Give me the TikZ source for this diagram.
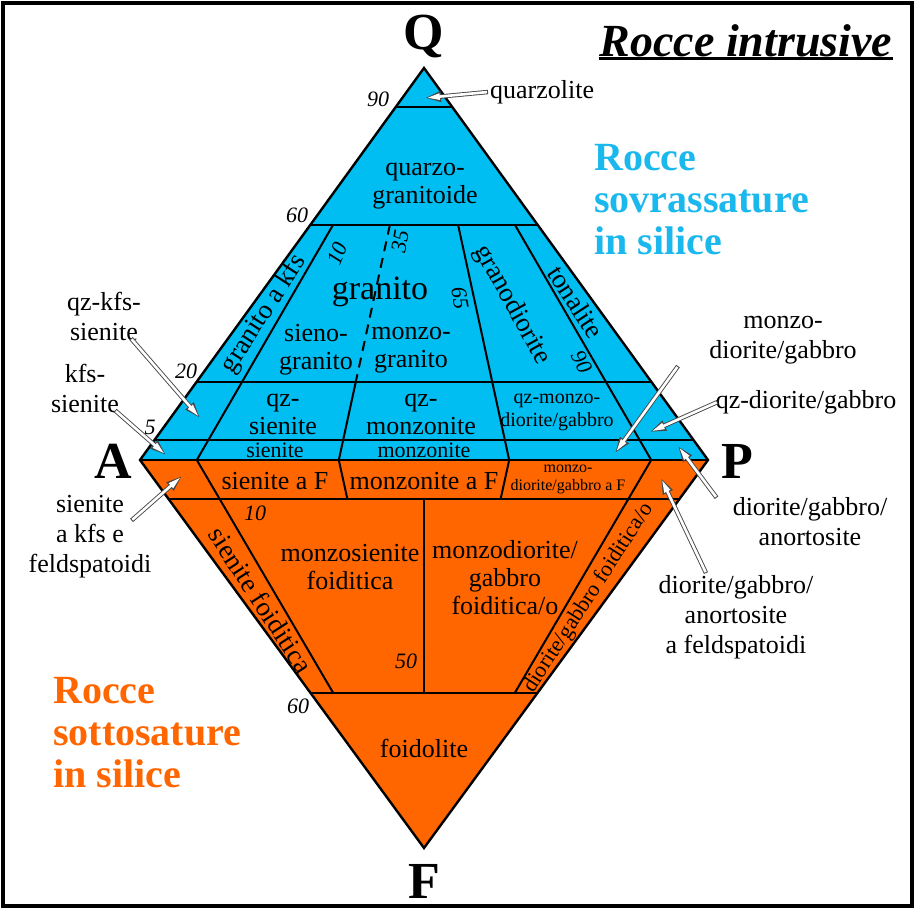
\documentclass[tikz,border=0pt]{standalone}
\usepackage{fontspec}
\setmainfont{Liberation Serif}
\usepackage{xcolor}
\usepackage{tikz}
\usetikzlibrary{arrows.meta, positioning, calc}
\definecolor{qblue}{HTML}{00BEF2}
\definecolor{forange}{HTML}{FF6600}
\definecolor{tblue}{HTML}{1AB8EC}
\newcommand{\fs}[2]{\fontsize{#1}{#2}\selectfont}

\begin{document}
\begin{tikzpicture}[
  x=1pt, y=-1pt,
  edge/.style={draw=black, line width=2.4pt, line join=miter},
  sep/.style={draw=black, line width=2pt},
  lbl/.style={font=\fs{26}{28}, align=center, inner sep=0pt},
  slant/.style={font=\fs{27}{27}, inner sep=0pt},
  band/.style={font=\fs{22}{22}, align=center, inner sep=0pt},
  num/.style={font=\fs{22}{22}\itshape, inner sep=0pt},
  vtx/.style={font=\fs{52}{52}\bfseries, inner sep=0pt},
  outlbl/.style={font=\fs{26}{30}, align=center, inner sep=0pt},
  group/.style={font=\fs{40}{42}\bfseries, align=left, inner sep=0pt},
  warr/.style={white, line width=2.6pt, shorten <=1pt, shorten >=1.8pt,
    -{Triangle[length=13pt, width=6pt]},
    preaction={draw=gray!55!black, line width=4.4pt, shorten <=0pt, shorten >=0pt,
      -{Triangle[length=16pt, width=10pt]}}}
]
  \useasboundingbox (0,0) rectangle (916,909);
  \draw[line width=4.5pt] (3,3) rectangle (912,906);

  % Vertices
  \coordinate (Q) at (424,68);
  \coordinate (A) at (140,460);
  \coordinate (P) at (708,460);
  \coordinate (F) at (424,848);

  % P/(A+P) points on the A-P line
  \foreach \r in {10,35,50,65,90}
    \coordinate (b\r) at ($(A)!0.\r!(P)$);

  % Fields
  \fill[qblue] (Q) -- (A) -- (P) -- cycle;
  \fill[forange] (A) -- (F) -- (P) -- cycle;

  % Q levels
  \foreach \t in {0.1,0.4,0.8,0.95}
    \draw[sep] ($(Q)!\t!(A)$) -- ($(Q)!\t!(P)$);
  % F levels
  \foreach \t in {0.9,0.4}
    \draw[sep] ($(F)!\t!(A)$) -- ($(F)!\t!(P)$);

  % Upper radial lines
  \draw[sep] ($(Q)!0.4!(b10)$) -- (b10);
  \draw[sep, dash pattern=on 10pt off 7pt] ($(Q)!0.4!(b35)$) -- ($(Q)!0.8!(b35)$);
  \draw[sep] ($(Q)!0.8!(b35)$) -- (b35);
  \draw[sep] ($(Q)!0.4!(b65)$) -- (b65);
  \draw[sep] ($(Q)!0.4!(b90)$) -- (b90);

  % Lower radial lines
  \draw[sep] (b10) -- ($(F)!0.4!(b10)$);
  \draw[sep] (b35) -- ($(F)!0.9!(b35)$);
  \draw[sep] ($(F)!0.9!(b50)$) -- ($(F)!0.4!(b50)$);
  \draw[sep] (b65) -- ($(F)!0.9!(b65)$);
  \draw[sep] (b90) -- ($(F)!0.4!(b90)$);

  % Outline
  \draw[edge] (Q) -- (P) -- (F) -- (A) -- cycle;
  \draw[edge] (A) -- (P);

  % Vertex letters
  \node[vtx] (lQ) at (424,37) {Q};
  \node[vtx] (lA) at (113,461) {A};
  \node[vtx] (lP) at (737,461) {P};
  \node[vtx] (lF) at (424,881) {F};

  % Upper field names
  \node[lbl] (qzgr) at (425,186) {quarzo-\\granitoide};
  \node[font=\fs{34}{34}, inner sep=0pt] (gran) at (380,292) {granito};
  \node[lbl] (sieno) at (316,350) {sieno-\\granito};
  \node[lbl] (monzog) at (411,350) {monzo-\\granito};
  \node[slant, rotate=57] (grkfs) at (264,314) {granito a kfs};
  \node[slant, rotate=-61] (grdio) at (512,305) {granodiorite};
  \node[slant, rotate=-57] (tonal) at (576,302) {tonalite};
  \node[lbl] (qzsie) at (283,414) {qz-\\sienite};
  \node[lbl] (qzmon) at (421,414) {qz-\\monzonite};
  \node[lbl, font=\fs{20}{23}] (qzmdg) at (557,412) {qz-monzo-\\diorite/gabbro};
  \node[band] (sien) at (275,450) {sienite};
  \node[band] (monz) at (424,450) {monzonite};

  % Lower field names
  \node[lbl] (sieF) at (275,481) {sienite a F};
  \node[lbl] (monF) at (424,481) {monzonite a F};
  \node[lbl, font=\fs{16}{18}] (mdgF) at (568,479) {monzo-\\diorite/gabbro a F};
  \node[lbl] (msfo) at (350,567) {monzosienite\\foiditica};
  \node[lbl] (mdfo) at (505,578) {monzodiorite/\\gabbro\\foiditica/o};
  \node[slant, rotate=-57] (siefo) at (261,600) {sienite foiditica};
  \node[slant, font=\fs{22}{22}, rotate=57] (diofo) at (589,598) {diorite/gabbro foiditica/o};
  \node[lbl] (foid) at (424,748) {foidolite};

  % Numbers
  \node[num] (n90) at (378,99) {90};
  \node[num] (n60) at (297,215) {60};
  \node[num] (n20) at (186,371) {20};
  \node[num] (n5) at (150,427) {5};
  \node[num, rotate=68] (r10) at (337,254) {10};
  \node[num, rotate=80] (r35) at (400,241) {35};
  \node[num, rotate=-80] (r65) at (460,298) {65};
  \node[num, rotate=-62] (r90) at (582,362) {90};
  \node[num] (f10) at (255,513) {10};
  \node[num] (f50) at (406,661) {50};
  \node[num] (f60) at (298,706) {60};

  % Titles
  \node[font=\fs{46}{46}\bfseries\itshape, inner sep=1pt] (title) at (746,41) {Rocce intrusive};
  \draw[line width=2.6pt] (title.south west) -- (title.south east);
  \node[group, text=tblue, anchor=west] (sovra) at (594,200) {Rocce\\sovrassature\\in silice};
  \node[group, text=forange, anchor=west] (sotto) at (53,733) {Rocce\\sottosature\\in silice};

  % Outside names
  \node[outlbl, anchor=west] (quarz) at (490,92) {quarzolite};
  \node[outlbl] (qzkfs) at (104,316) {qz-kfs-\\sienite};
  \node[outlbl] (kfs) at (85,388) {kfs-\\sienite};
  \node[outlbl] (siekfs) at (90,537) {sienite\\a kfs e\\feldspatoidi};
  \node[outlbl] (mondg) at (783,340) {monzo-\\diorite/gabbro};
  \node[outlbl] (qzdg) at (806,402) {qz-diorite/gabbro};
  \node[outlbl] (dga) at (810,522) {diorite/gabbro/\\anortosite};
  \node[outlbl] (dgaf) at (736,617) {diorite/gabbro/\\anortosite\\a feldspatoidi};

  % Arrow targets
  \coordinate (tquarz) at (425,98);
  \coordinate (tqzkfs) at (200,418);
  \coordinate (tkfs) at (166,455);
  \coordinate (tsiekfs) at (182,476);
  \coordinate (tmondg) at (615,453);
  \coordinate (tqzdg) at (650,432);
  \coordinate (tdga) at (678,446);
  \coordinate (tdgaf) at (661,478);

  % Arrows
  \draw[warr] ([xshift=-2pt]quarz.west) -- (tquarz);
  \draw[warr] ([xshift=-10pt,yshift=2pt]qzkfs.south east) -- (tqzkfs);
  \draw[warr] ([xshift=-4pt,yshift=2pt]kfs.south east) -- (tkfs);
  \draw[warr] ([xshift=-20pt,yshift=-25pt]siekfs.north east) -- (tsiekfs);
  \draw[warr] ([xshift=-105pt,yshift=-2pt]mondg.south) -- (tmondg);
  \draw[warr] ([xshift=2pt]qzdg.west) -- (tqzdg);
  \draw[warr] ([xshift=-16pt]dga.north west) -- (tdga);
  \draw[warr] ([xshift=-30pt,yshift=2pt]dgaf.north) -- (tdgaf);
\end{tikzpicture}
\end{document}
